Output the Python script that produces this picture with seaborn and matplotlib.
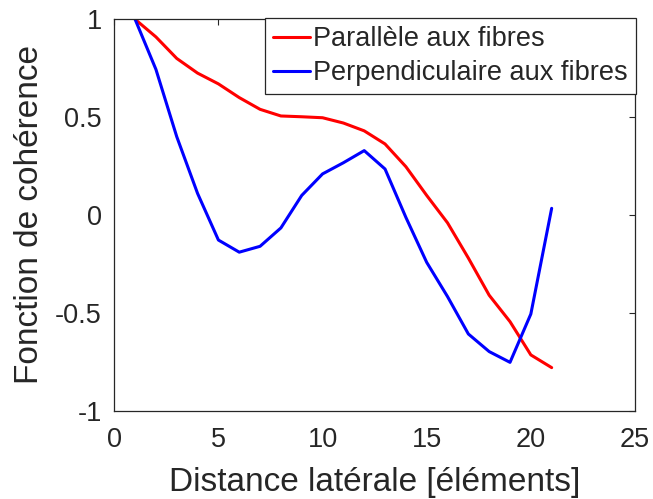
import numpy as np
import pandas as pd
import matplotlib
matplotlib.use("Agg")
import matplotlib.pyplot as plt
from matplotlib.ticker import FuncFormatter
import seaborn as sns

# Lateral distance (in elements) and coherence values for each direction
distance = [1, 2, 3, 4, 5, 6, 7, 8, 9, 10, 11, 12, 13, 14, 15, 16, 17, 18, 19, 20, 21]
parallele = [1.0, 0.91, 0.80, 0.725, 0.67, 0.60, 0.54, 0.506, 0.502, 0.497, 0.47,
             0.43, 0.363, 0.247, 0.10, -0.04, -0.22, -0.41, -0.545, -0.715, -0.78]
perpendiculaire = [1.0, 0.744, 0.40, 0.11, -0.128, -0.19, -0.16, -0.066, 0.10, 0.21,
                   0.267, 0.329, 0.235, -0.012, -0.242, -0.417, -0.608, -0.698,
                   -0.753, -0.506, 0.034]

label_par = "Parallèle aux fibres"
label_perp = "Perpendiculaire aux fibres"
x_ticks = [0, 5, 10, 15, 20, 25]
y_ticks = [-1, -0.5, 0, 0.5, 1]

df = pd.DataFrame({
    "distance": distance * 2,
    "coherence": parallele + perpendiculaire,
    "direction": [label_par] * len(distance) + [label_perp] * len(distance),
})

sns.set_style("white")
plt.rcParams["font.family"] = ["Liberation Sans", "DejaVu Sans"]

axis_color = "#262626"
fig = plt.figure(figsize=(6.53, 4.99), dpi=100)
ax = fig.add_axes([0.175, 0.177, 0.7974, 0.7843])

sns.lineplot(data=df, x="distance", y="coherence", hue="direction",
             palette={label_par: "#ff0000", label_perp: "#0000ff"},
             linewidth=2.2, ax=ax, legend=True)

ax.set_xlim(0, 25)
ax.set_ylim(-1, 1)
ax.set_xticks(x_ticks)
ax.set_yticks(y_ticks)
ax.yaxis.set_major_formatter(FuncFormatter(lambda v, p: f"{v:g}".replace("\u2212", "-")))
ax.xaxis.set_major_formatter(FuncFormatter(lambda v, p: f"{v:g}"))

for s in ax.spines.values():
    s.set_visible(True)
    s.set_color(axis_color)
    s.set_linewidth(0.9)
ax.tick_params(direction="in", length=4.5, width=0.8, colors=axis_color,
               labelsize=19.5, top=True, right=True, pad=9,
               labelcolor=axis_color)
ax.tick_params(axis="x", pad=12)

ax.set_xlabel("Distance latérale [éléments]", fontsize=24, color=axis_color, labelpad=9.5)
ax.set_ylabel("Fonction de cohérence", fontsize=24, color=axis_color, labelpad=7)

handles, labels = ax.get_legend_handles_labels()
leg = ax.legend(handles, labels, loc="upper right",
                bbox_to_anchor=(636 / 653, 1 - 18 / 499),
                bbox_transform=fig.transFigure, borderaxespad=0,
                fontsize=19.5, handlelength=1.35, handletextpad=0.12,
                labelspacing=0.3, borderpad=0.3, frameon=True,
                fancybox=False, framealpha=1, edgecolor=axis_color)
leg.get_frame().set_linewidth(0.9)
for line in leg.get_lines():
    line.set_linewidth(2.2)

fig.savefig("out.png", dpi=100)
